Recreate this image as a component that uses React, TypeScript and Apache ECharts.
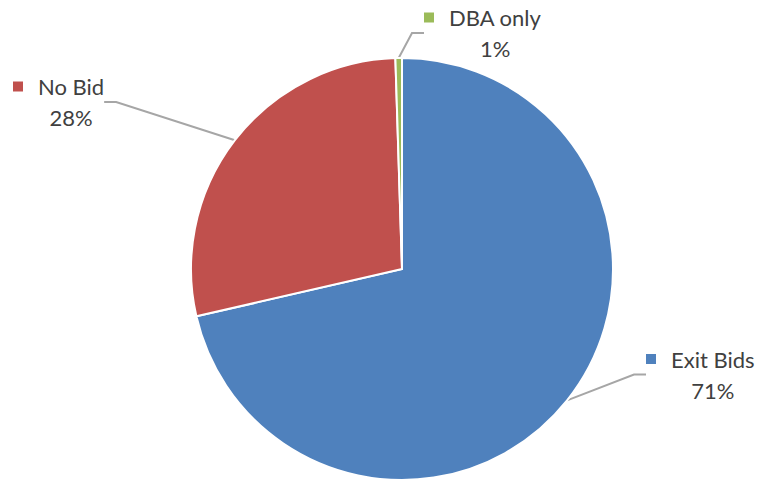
import React, { useEffect, useRef } from 'react';
import * as echarts from 'echarts';

const categories = ['Exit Bids', 'No Bid', 'DBA only'];
const values = [71.4, 28.1, 0.5];
const colors = ['#4F81BD', '#C0504D', '#9BBB59'];
// label box top-left positions (layout only)
const labelPos: number[][] = [
  [632, 329.5],
  [-1, 57],
  [410, -12],
];

const FONT = 'Lato';
const TEXT_COLOR = '#404040';
const FS = 22;

export default function App() {
  const ref = useRef<HTMLDivElement>(null);
  useEffect(() => {
    document.body.style.margin = '0';
    const chart = echarts.init(ref.current!, null, { renderer: 'svg' });
    const data = categories.map((name, i) => ({
      name,
      value: values[i],
      itemStyle: { color: colors[i] },
      label: {
        rich: {
          sq: { width: 10, height: 10, backgroundColor: colors[i], align: 'left', lineHeight: 31 },
          name: { fontFamily: FONT, fontSize: FS, color: TEXT_COLOR, padding: [0, 0, 0, 15], align: 'left', lineHeight: 31 },
          sp: { width: 25, align: 'center', lineHeight: 31 },
          pct: { fontFamily: FONT, fontSize: FS, color: TEXT_COLOR, align: 'center', lineHeight: 31 },
        },
      },
    }));
    chart.setOption({
      animation: false,
      backgroundColor: '#ffffff',
      series: [
        {
          type: 'pie',
          center: [402, 269],
          radius: 211,
          startAngle: 90,
          clockwise: true,
          avoidLabelOverlap: false,
          itemStyle: { borderColor: '#ffffff', borderWidth: 2 },
          label: {
            show: true,
            position: 'outside',
            padding: [14, 7, 0, 14],
            fontFamily: FONT,
            fontSize: FS,
            color: TEXT_COLOR,
            formatter: (p: any) => `{sq| }{name|${p.name}}\n{sp| }{pct|${Math.round(p.percent)}%}`,
          },
          labelLine: {
            show: true,
            length: 10,
            length2: 12,
            minTurnAngle: 0,
            lineStyle: { color: '#A6A6A6', width: 2 },
          },
          labelLayout: (params: any) => {
            const pos = labelPos[params.dataIndex];
            return { x: pos[0], y: pos[1], align: 'left', verticalAlign: 'top' };
          },
          emphasis: { disabled: true },
          data,
        },
      ],
    });
    return () => chart.dispose();
  }, []);
  return <div ref={ref} style={{ width: 759, height: 480 }} />;
}
